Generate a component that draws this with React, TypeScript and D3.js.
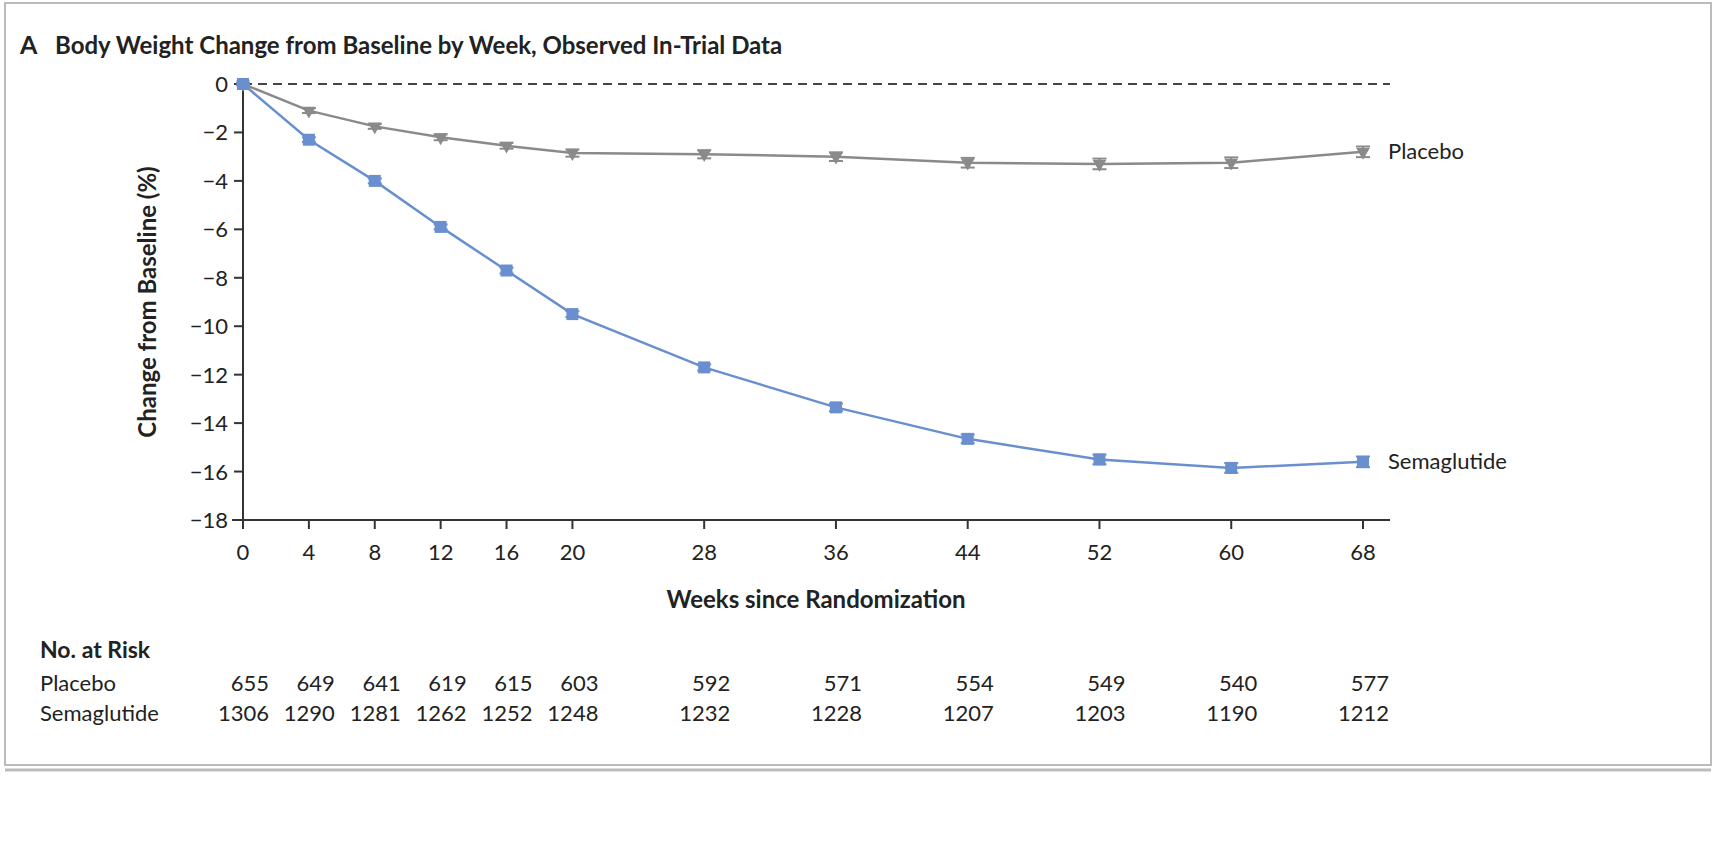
import React from "react";
import * as d3 from "d3";

const weeks = [0, 4, 8, 12, 16, 20, 28, 36, 44, 52, 60, 68];
const placebo = [0, -1.1, -1.75, -2.2, -2.55, -2.85, -2.9, -3.0, -3.25, -3.3, -3.25, -2.8];
const placeboErr = [0.05, 0.1, 0.1, 0.12, 0.12, 0.15, 0.17, 0.18, 0.2, 0.22, 0.22, 0.22];
const sema = [0, -2.3, -4.0, -5.9, -7.7, -9.5, -11.7, -13.35, -14.65, -15.5, -15.85, -15.6];
const semaErr = [0.05, 0.1, 0.1, 0.1, 0.12, 0.12, 0.13, 0.16, 0.18, 0.2, 0.2, 0.22];
const yTicks = [0, -2, -4, -6, -8, -10, -12, -14, -16, -18];
const riskPlacebo = [655, 649, 641, 619, 615, 603, 592, 571, 554, 549, 540, 577];
const riskSema = [1306, 1290, 1281, 1262, 1252, 1248, 1232, 1228, 1207, 1203, 1190, 1212];

const GRAY = "#8a8a8a";
const BLUE = "#6a8fcf";
const FONT = "Lato, 'Open Sans', sans-serif";

export default function App() {
  const x = d3.scaleLinear().domain([0, 68]).range([243, 1363]);
  const y = d3.scaleLinear().domain([0, -18]).range([84, 520]);
  const line = d3.line<number>().x((_, i) => x(weeks[i])).y((v) => y(v));
  const tri = d3.symbol().type(d3.symbolTriangle).size(80)();
  return (
    <svg width={1721} height={844} style={{ position: "absolute", left: 0, top: 0, background: "#fff" }} fontFamily={FONT}>
      <rect x={5} y={3} width={1706} height={762} fill="none" stroke="#bbb" strokeWidth={2} />
      <line x1={5} y1={770} x2={1711} y2={770} stroke="#bbb" strokeWidth={3} />
      <text x={20} y={54} fontSize={25} fontWeight="bold" fill="#222">A</text>
      <text x={55} y={54} fontSize={24} fontWeight="bold" fill="#222">Body Weight Change from Baseline by Week, Observed In-Trial Data</text>
      <line x1={243} x2={1390} y1={y(0)} y2={y(0)} stroke="#444" strokeWidth={2} strokeDasharray="9 6" />
      <line x1={243} x2={243} y1={y(0)} y2={y(-18)} stroke="#333" strokeWidth={2} />
      <line x1={232} x2={1390} y1={y(-18)} y2={y(-18)} stroke="#333" strokeWidth={2} />
      {yTicks.map((t) => (
        <g key={t}>
          <line x1={234} x2={243} y1={y(t)} y2={y(t)} stroke="#333" strokeWidth={2} />
          <text x={228} y={y(t) + 8} textAnchor="end" fontSize={22} fill="#222">{t === 0 ? "0" : "\u2212" + Math.abs(t)}</text>
        </g>
      ))}
      {weeks.map((w) => (
        <g key={w}>
          <line x1={x(w)} x2={x(w)} y1={y(-18)} y2={y(-18) + 9} stroke="#333" strokeWidth={2} />
          <text x={x(w)} y={560} textAnchor="middle" fontSize={22} fill="#222">{w}</text>
        </g>
      ))}
      <text x={816} y={608} textAnchor="middle" fontSize={24} fontWeight="bold" fill="#222">Weeks since Randomization</text>
      <text transform={`translate(156,302) rotate(-90)`} textAnchor="middle" fontSize={24} fontWeight="bold" fill="#222">Change from Baseline (%)</text>
      <path d={line(placebo)!} fill="none" stroke={GRAY} strokeWidth={2.5} />
      <path d={line(sema)!} fill="none" stroke={BLUE} strokeWidth={2.5} />
      {placebo.map((v, i) => (
        <g key={"p" + i} stroke={GRAY} strokeWidth={2}>
          <line x1={x(weeks[i])} x2={x(weeks[i])} y1={y(v - placeboErr[i])} y2={y(v + placeboErr[i])} />
          <line x1={x(weeks[i]) - 7} x2={x(weeks[i]) + 7} y1={y(v - placeboErr[i])} y2={y(v - placeboErr[i])} />
          <line x1={x(weeks[i]) - 7} x2={x(weeks[i]) + 7} y1={y(v + placeboErr[i])} y2={y(v + placeboErr[i])} />
          <path d={tri!} transform={`translate(${x(weeks[i])},${y(v)}) rotate(180)`} fill={GRAY} stroke="none" />
        </g>
      ))}
      {sema.map((v, i) => (
        <g key={"s" + i} stroke={BLUE} strokeWidth={2}>
          <line x1={x(weeks[i])} x2={x(weeks[i])} y1={y(v - semaErr[i])} y2={y(v + semaErr[i])} />
          <line x1={x(weeks[i]) - 7} x2={x(weeks[i]) + 7} y1={y(v - semaErr[i])} y2={y(v - semaErr[i])} />
          <line x1={x(weeks[i]) - 7} x2={x(weeks[i]) + 7} y1={y(v + semaErr[i])} y2={y(v + semaErr[i])} />
          <rect x={x(weeks[i]) - 6} y={y(v) - 6} width={12} height={12} fill={BLUE} stroke="none" />
        </g>
      ))}
      <text x={1388} y={y(placebo[11]) + 7} fontSize={22} fill="#222">Placebo</text>
      <text x={1388} y={y(sema[11]) + 7} fontSize={22} fill="#222">Semaglutide</text>
      <text x={40} y={658} fontSize={23} fontWeight="bold" fill="#222">No. at Risk</text>
      <text x={40} y={691} fontSize={22} fill="#222">Placebo</text>
      <text x={40} y={721} fontSize={22} fill="#222">Semaglutide</text>
      {weeks.map((w, i) => (
        <g key={"r" + w}>
          <text x={x(w) + 26} y={691} textAnchor="end" fontSize={22} fill="#222">{riskPlacebo[i]}</text>
          <text x={x(w) + 26} y={721} textAnchor="end" fontSize={22} fill="#222">{riskSema[i]}</text>
        </g>
      ))}
    </svg>
  );
}
